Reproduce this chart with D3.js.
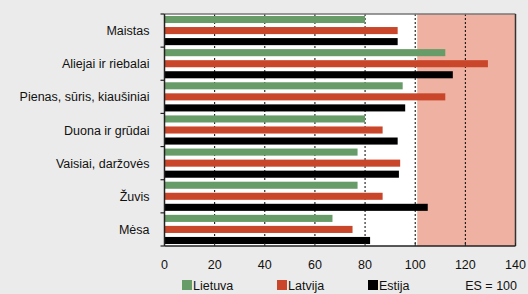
<!DOCTYPE html>
<html><head><meta charset="utf-8">
<script src="https://cdn.jsdelivr.net/npm/d3@7"></script>
<style>
html,body{margin:0;padding:0;background:#ebebeb;}
svg{display:block;font-family:"Liberation Sans",Arial,sans-serif;}
</style></head><body>
<svg id="c" width="528" height="294"></svg>
<script>
const categories = ["Maistas","Aliejai ir riebalai","Pienas, sūris, kiaušiniai","Duona ir grūdai","Vaisiai, daržovės","Žuvis","Mėsa"];
const lietuva = [80, 112, 95, 80, 77, 77, 67];
const latvija = [93, 129, 112, 87, 94, 87, 75];
const estija  = [93, 115, 96, 93, 93.5, 105, 82];
const seriesNames = ["Lietuva","Latvija","Estija"];
const seriesColors = ["#679b67","#c9462a","#000000"];
const xTicks = [0,20,40,60,80,100,120,140];
const shadeFrom = 100, shadeTo = 140;
const esLabel = "ES = 100";

const series = [lietuva, latvija, estija];
const svg = d3.select("#c");
const m = {left:164.5, right:515.5, top:14, bottom:246};
const x = d3.scaleLinear().domain([0,140]).range([m.left, m.right]);
const y = d3.scaleBand().domain(categories).range([m.top, m.bottom]);
const inner = d3.scaleBand().domain([0,1,2]).range([0, y.bandwidth()]).paddingInner(0.36).paddingOuter(0.18);

// plot bg
svg.append("rect").attr("x",m.left).attr("y",m.top).attr("width",m.right-m.left).attr("height",m.bottom-m.top).attr("fill","#fff");
svg.append("rect").attr("x",x(shadeFrom)+2).attr("y",m.top).attr("width",x(shadeTo)-x(shadeFrom)-2).attr("height",m.bottom-m.top).attr("fill","#efb2a2");

// gridlines
svg.append("g").selectAll("line").data(xTicks.filter(d=>d>0&&d<140)).join("line")
  .attr("x1",d=>x(d)).attr("x2",d=>x(d)).attr("y1",m.top).attr("y2",m.bottom)
  .attr("stroke","#000").attr("stroke-width",1).attr("stroke-dasharray","2,2");

// bars
categories.forEach((c,i)=>{
  series.forEach((s,j)=>{
    svg.append("rect").attr("x",x(0)).attr("y",y(c)+inner(j)).attr("width",x(s[i])-x(0))
      .attr("height",inner.bandwidth()).attr("fill",seriesColors[j]);
  });
});

// top/right borders
svg.append("line").attr("x1",m.left).attr("x2",m.right).attr("y1",m.top).attr("y2",m.top).attr("stroke","#777").attr("stroke-width",1.5);
svg.append("line").attr("x1",m.right).attr("x2",m.right).attr("y1",m.top).attr("y2",m.bottom).attr("stroke","#333").attr("stroke-width",1.5);

// y axis
const ya = svg.append("g").attr("transform",`translate(${m.left},0)`);
ya.append("line").attr("x1",0).attr("x2",0).attr("y1",m.top).attr("y2",m.bottom).attr("stroke","#222").attr("stroke-width",1.5);
const bounds = categories.map(c=>y(c)).concat([m.bottom]);
ya.selectAll("line.t").data(bounds).join("line").attr("class","t")
  .attr("x1",-4).attr("x2",0).attr("y1",d=>d).attr("y2",d=>d).attr("stroke","#222").attr("stroke-width",1.2);
ya.selectAll("text").data(categories).join("text")
  .attr("x",-15).attr("y",c=>y(c)+y.bandwidth()/2+4.5).attr("text-anchor","end")
  .attr("font-size",12.5).attr("fill","#111").text(d=>d);

// x axis
const xa = svg.append("g").attr("transform",`translate(0,${m.bottom})`);
xa.append("line").attr("x1",m.left).attr("x2",m.right).attr("y1",0).attr("y2",0).attr("stroke","#222").attr("stroke-width",1.5);
xa.selectAll("line.t").data(xTicks).join("line").attr("class","t")
  .attr("x1",d=>x(d)).attr("x2",d=>x(d)).attr("y1",-3).attr("y2",0).attr("stroke","#222");
xa.selectAll("text").data(xTicks).join("text")
  .attr("x",d=>x(d)).attr("y",23).attr("text-anchor","middle")
  .attr("font-size",12.5).attr("fill","#111").text(d=>d);

// legend
const legX = [182, 277, 368];
const lg = svg.append("g");
seriesNames.forEach((n,j)=>{
  lg.append("rect").attr("x",legX[j]).attr("y",280).attr("width",10).attr("height",10).attr("fill",seriesColors[j]);
  lg.append("text").attr("x",legX[j]+11).attr("y",290).attr("font-size",12.5).attr("fill","#111").text(n);
});
lg.append("text").attr("x",517).attr("y",290).attr("text-anchor","end").attr("font-size",12.5).attr("fill","#111").text(esLabel);
</script>
</body></html>
